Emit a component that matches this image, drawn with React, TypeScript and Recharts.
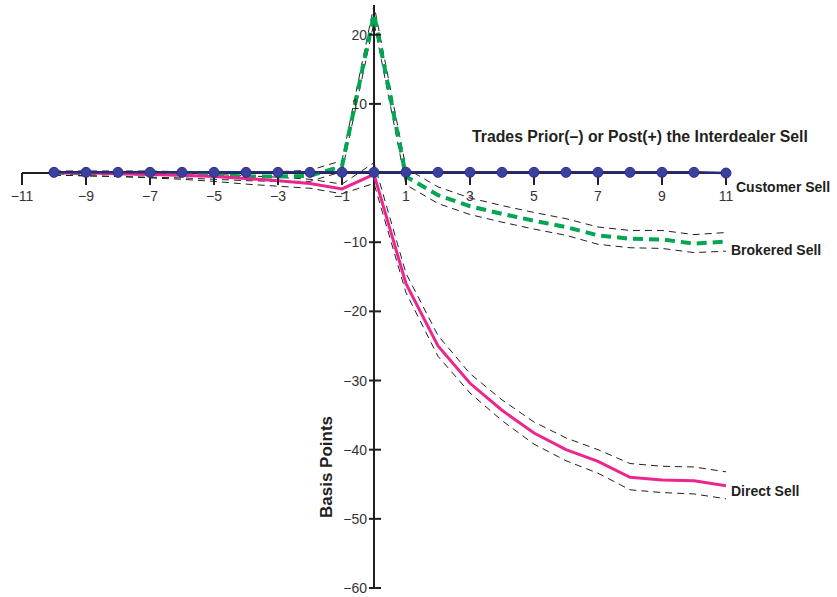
import { LineChart, Line, XAxis, YAxis, ReferenceLine, ReferenceDot } from "recharts";

// trade position relative to the interdealer sell
const steps = [-10, -9, -8, -7, -6, -5, -4, -3, -2, -1, 0, 1, 2, 3, 4, 5, 6, 7, 8, 9, 10, 11];

// basis points
const customerSell = [0.1, 0.1, 0.1, 0.1, 0.1, 0.1, 0.1, 0.1, 0.1, 0.1, 0.1, 0.1, 0.1, 0.1, 0.1, 0.1, 0.1, 0.1, 0.1, 0.1, 0.1, 0];
const brokeredSell = [0, 0, 0, -0.1, -0.2, -0.3, -0.5, -0.5, -0.4, 1.0, 23, -0.5, -3.2, -4.8, -5.9, -6.9, -7.8, -9.0, -9.5, -9.6, -10.2, -9.9];
const brokeredUpper = [0.3, 0.3, 0.3, 0.3, 0.2, 0.2, 0.1, 0.2, 0.4, 1.8, 24.3, 0.7, -2.0, -3.6, -4.7, -5.7, -6.6, -7.8, -8.3, -8.3, -8.9, -8.6];
const brokeredLower = [-0.3, -0.4, -0.5, -0.6, -0.7, -0.9, -1.1, -1.2, -1.2, 0.2, 21.8, -1.7, -4.4, -6.0, -7.1, -8.1, -9.0, -10.3, -10.8, -10.9, -11.5, -11.3];
const directSell = [0, 0, -0.1, -0.2, -0.3, -0.5, -0.8, -1.1, -1.5, -2.3, -0.2, -16, -25, -30.4, -34.3, -37.6, -40, -41.7, -44, -44.4, -44.5, -45.2];
const directUpper = [0.2, 0.1, 0, -0.1, -0.1, -0.2, -0.4, -0.6, -0.9, -1.6, 1.5, -14.5, -23.5, -29, -32.8, -36, -38.3, -40, -42, -42.4, -42.5, -43.2];
const directLower = [-0.3, -0.4, -0.5, -0.7, -0.9, -1.2, -1.6, -1.9, -2.2, -3.0, -1.5, -17.3, -26.5, -31.8, -35.8, -39.2, -41.6, -43.4, -45.8, -46.2, -46.4, -47.1];

const xTicks = [-11, -9, -7, -5, -3, -1, 1, 3, 5, 7, 9, 11];
const yTicks = [20, 10, -10, -20, -30, -40, -50, -60];

const data = steps.map((step, i) => ({
  step,
  customer: customerSell[i],
  brokered: brokeredSell[i],
  brokeredHi: brokeredUpper[i],
  brokeredLo: brokeredLower[i],
  direct: directSell[i],
  directHi: directUpper[i],
  directLo: directLower[i],
}));

const FONT = "'Liberation Sans', Arial, Helvetica, sans-serif";
const fmt = (v: number) => (v < 0 ? `\u2212${Math.abs(v)}` : `${v}`);
const last = steps.length - 1;

const endLabel = (text: string, dx: number, dy: number) => (props: any) => {
  if (props.index !== last) return null;
  return (
    <text x={props.x + dx} y={props.y + dy} fontFamily={FONT} fontWeight="bold" fontSize={14} fill="#231f20">
      {text}
    </text>
  );
};

const bandProps = {
  type: "linear" as const,
  stroke: "#231f20",
  strokeWidth: 1,
  strokeDasharray: "7 5",
  dot: false,
  isAnimationActive: false,
};

export default function App() {
  return (
    <div style={{ position: "absolute", left: 0, top: 0, width: 837, height: 597, background: "#fff" }}>
      <LineChart width={837} height={597} data={data} margin={{ top: 5, right: 111, bottom: 9, left: 22 }}>
        <XAxis type="number" dataKey="step" domain={[-11, 11]} hide />
        <YAxis type="number" domain={[-60, 24]} hide />
        <ReferenceLine y={0} stroke="#231f20" strokeWidth={2} />
        <ReferenceLine x={0} stroke="#231f20" strokeWidth={2} />
        {xTicks.map((t) => (
          <ReferenceDot
            key={`x${t}`}
            x={t}
            y={0}
            r={0}
            shape={(p: any) => (
              <g>
                <line x1={p.cx} y1={p.cy} x2={p.cx} y2={p.cy + 12} stroke="#231f20" strokeWidth={2} />
                <text x={p.cx} y={p.cy + 28} textAnchor="middle" fontFamily={FONT} fontSize={14} fill="#333">
                  {fmt(t)}
                </text>
              </g>
            )}
          />
        ))}
        {yTicks.map((t) => (
          <ReferenceDot
            key={`y${t}`}
            x={0}
            y={t}
            r={0}
            shape={(p: any) => (
              <g>
                <line x1={p.cx - 5} y1={p.cy} x2={p.cx + 7} y2={p.cy} stroke="#231f20" strokeWidth={2} />
                <text x={p.cx - 7} y={p.cy + 5} textAnchor="end" fontFamily={FONT} fontSize={14} fill="#333">
                  {fmt(t)}
                </text>
              </g>
            )}
          />
        ))}
        <Line dataKey="brokeredHi" {...bandProps} />
        <Line dataKey="brokeredLo" {...bandProps} />
        <Line dataKey="directHi" {...bandProps} />
        <Line dataKey="directLo" {...bandProps} />
        <Line
          dataKey="brokered"
          type="linear"
          stroke="#00a651"
          strokeWidth={4}
          strokeDasharray="10 6"
          dot={false}
          isAnimationActive={false}
          label={endLabel("Brokered Sell", 5, 13)}
        />
        <Line
          dataKey="direct"
          type="linear"
          stroke="#ec268f"
          strokeWidth={3}
          dot={false}
          isAnimationActive={false}
          label={endLabel("Direct Sell", 5, 10)}
        />
        <Line
          dataKey="customer"
          type="linear"
          stroke="#262b74"
          strokeWidth={2.5}
          dot={{ r: 5, fill: "#3a40a0", stroke: "#2b3087", strokeWidth: 1 }}
          isAnimationActive={false}
          label={endLabel("Customer Sell", 10, 19)}
        />
      </LineChart>
      <div
        style={{
          position: "absolute",
          left: 472,
          top: 128,
          fontFamily: FONT,
          fontWeight: "bold",
          fontSize: 15.8,
          color: "#231f20",
          whiteSpace: "nowrap",
        }}
      >
        Trades Prior(–) or Post(+) the Interdealer Sell
      </div>
      <div
        style={{
          position: "absolute",
          left: 327,
          top: 467,
          transform: "translate(-50%, -50%) rotate(-90deg)",
          fontFamily: FONT,
          fontWeight: "bold",
          fontSize: 17,
          color: "#231f20",
          whiteSpace: "nowrap",
        }}
      >
        Basis Points
      </div>
    </div>
  );
}
